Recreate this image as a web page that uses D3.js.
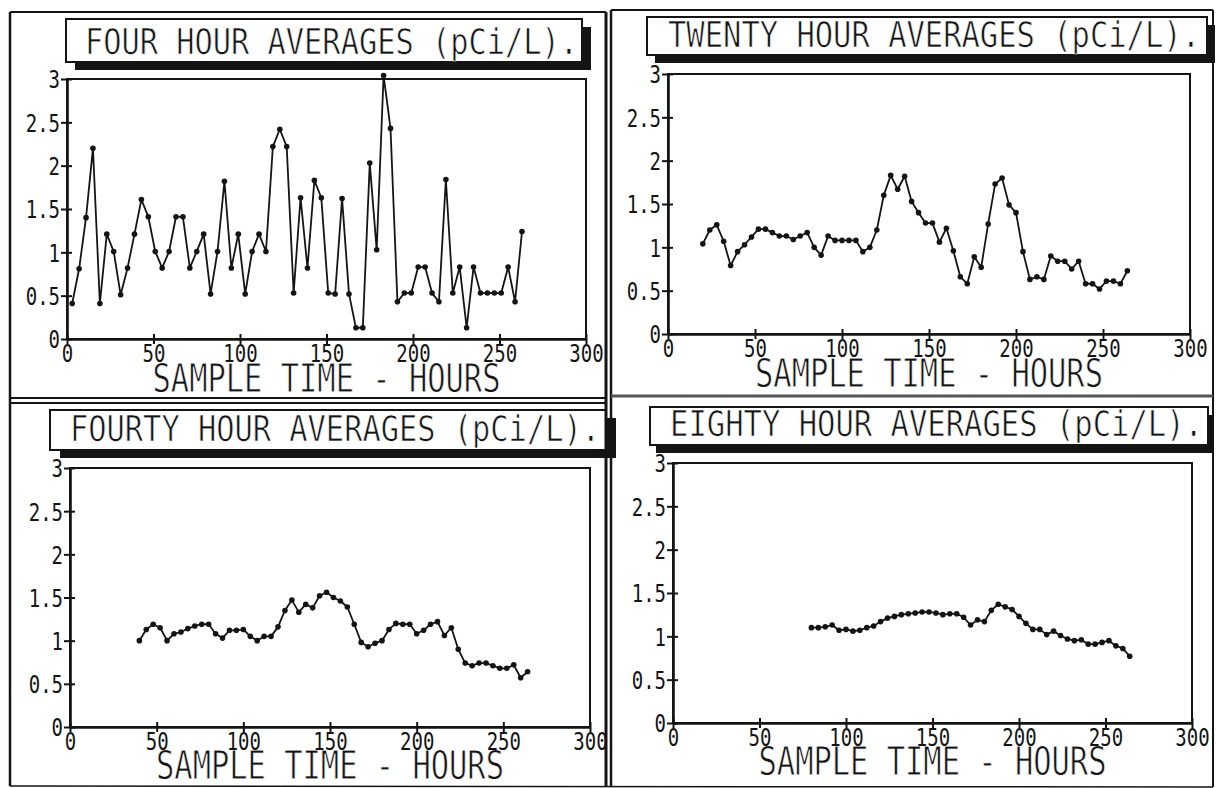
<!DOCTYPE html>
<html>
<head>
<meta charset="utf-8">
<script src="https://cdn.jsdelivr.net/npm/d3@7"></script>
<style>
  html, body { margin: 0; padding: 0; background: #fff; }
  svg { display: block; }
</style>
</head>
<body>
<svg id="chart" width="1217" height="788"></svg>
<script>
// Radon concentration running averages (pCi/L) against sample time in hours.
const fourHourTimes = [3,7,11,15,19,23,27,31,35,39,43,47,51,55,59,63,67,71,75,79,83,87,91,95,99,103,107,111,115,119,123,127,131,135,139,143,147,151,155,159,163,167,171,175,179,183,187,191,195,199,203,207,211,215,219,223,227,231,235,239,243,247,251,255,259,263];
const fourHourValues = [0.41,0.81,1.40,2.20,0.41,1.21,1.01,0.51,0.82,1.21,1.61,1.41,1.01,0.82,1.01,1.41,1.41,0.82,1.01,1.21,0.52,1.01,1.82,0.82,1.21,0.52,1.01,1.21,1.01,2.22,2.42,2.22,0.53,1.63,0.82,1.83,1.63,0.53,0.52,1.62,0.52,0.13,0.13,2.03,1.03,3.04,2.43,0.43,0.53,0.53,0.83,0.83,0.53,0.43,1.84,0.53,0.83,0.13,0.83,0.53,0.53,0.53,0.53,0.83,0.43,1.24];

const twentyHourTimes = [20,24,28,32,36,40,44,48,52,56,60,64,68,72,76,80,84,88,92,96,100,104,108,112,116,120,124,128,132,136,140,144,148,152,156,160,164,168,172,176,180,184,188,192,196,200,204,208,212,216,220,224,228,232,236,240,244,248,252,256,260,264];
const twentyHourValues = [1.04,1.20,1.26,1.07,0.79,0.95,1.03,1.12,1.21,1.21,1.17,1.13,1.13,1.09,1.13,1.17,1.00,0.91,1.13,1.08,1.08,1.08,1.08,0.95,1.00,1.20,1.60,1.83,1.67,1.82,1.53,1.40,1.28,1.28,1.06,1.22,0.96,0.66,0.58,0.89,0.77,1.27,1.73,1.80,1.49,1.40,0.95,0.63,0.66,0.63,0.90,0.84,0.84,0.75,0.84,0.58,0.58,0.52,0.61,0.61,0.58,0.73];

const fourtyHourTimes = [40,44,48,52,56,60,64,68,72,76,80,84,88,92,96,100,104,108,112,116,120,124,128,132,136,140,144,148,152,156,160,164,168,172,176,180,184,188,192,196,200,204,208,212,216,220,224,228,232,236,240,244,248,252,256,260,264];
const fourtyHourValues = [1.00,1.13,1.19,1.15,1.00,1.08,1.10,1.14,1.17,1.19,1.19,1.08,1.03,1.12,1.12,1.13,1.05,1.00,1.05,1.05,1.16,1.35,1.47,1.33,1.42,1.38,1.52,1.56,1.50,1.46,1.39,1.19,0.98,0.93,0.97,1.00,1.13,1.20,1.19,1.19,1.08,1.12,1.19,1.22,1.06,1.15,0.90,0.74,0.71,0.74,0.74,0.71,0.68,0.68,0.72,0.57,0.64];

const eightyHourTimes = [80,84,88,92,96,100,104,108,112,116,120,124,128,132,136,140,144,148,152,156,160,164,168,172,176,180,184,188,192,196,200,204,208,212,216,220,224,228,232,236,240,244,248,252,256,260,264];
const eightyHourValues = [1.10,1.10,1.11,1.13,1.07,1.08,1.06,1.07,1.10,1.12,1.17,1.21,1.23,1.25,1.26,1.27,1.28,1.28,1.27,1.25,1.26,1.26,1.22,1.13,1.19,1.17,1.30,1.37,1.34,1.31,1.23,1.15,1.08,1.08,1.02,1.06,1.01,0.97,0.95,0.96,0.91,0.91,0.93,0.95,0.89,0.86,0.77];

const yTickValues = [0, 0.5, 1, 1.5, 2, 2.5, 3];
const yTickLabels = ["0", "0.5", "1", "1.5", "2", "2.5", "3"];
const xTickValues = [0, 50, 100, 150, 200, 250, 300];
const xTickLabels = ["0", "50", "100", "150", "200", "250", "300"];

const panelTitles = [
  "FOUR HOUR AVERAGES (pCi/L).",
  "TWENTY HOUR AVERAGES (pCi/L).",
  "FOURTY HOUR AVERAGES (pCi/L).",
  "EIGHTY HOUR AVERAGES (pCi/L)."
];
const xAxisTitle = "SAMPLE TIME - HOURS";

const series = [
  { times: fourHourTimes, values: fourHourValues },
  { times: twentyHourTimes, values: twentyHourValues },
  { times: fourtyHourTimes, values: fourtyHourValues },
  { times: eightyHourTimes, values: eightyHourValues }
];

// Page geometry for the four framed panels.
const layouts = [
  { plot: { left: 67, right: 586, top: 79, bottom: 339 },
    box: { x: 66, y: 19, w: 516, h: 43, dx: 9, dy: 8 },
    titleX: [85, 578], titleBase: 54, axisTitleBase: 392 },
  { plot: { left: 668, right: 1190, top: 74, bottom: 334 },
    box: { x: 647, y: 17, w: 560, h: 38, dx: 8, dy: 8 },
    titleX: [668, 1200], titleBase: 47, axisTitleBase: 387 },
  { plot: { left: 70, right: 590, top: 468, bottom: 727 },
    box: { x: 50, y: 410, w: 556, h: 40, dx: 10, dy: 8 },
    titleX: [70, 600], titleBase: 441, axisTitleBase: 779 },
  { plot: { left: 673, right: 1192, top: 463, bottom: 723 },
    box: { x: 650, y: 407, w: 558, h: 38, dx: 6, dy: 8 },
    titleX: [670, 1203], titleBase: 436, axisTitleBase: 775 }
];

const ink = "#141414";
const FONT = "'DejaVu Sans Mono', 'Liberation Mono', monospace";

const svg = d3.select("#chart");
svg.append("rect").attr("width", 1217).attr("height", 788).attr("fill", "#fff");

// Tall, narrow plotter-style lettering: monospace text stretched vertically,
// with a thin white edge so the strokes read like pen lines.
function plotterText(parent, str, x, y, size, sy, anchor, length) {
  const t = parent.append("text")
    .attr("transform", `translate(${x},${y}) scale(1,${sy})`)
    .attr("x", 0).attr("y", 0)
    .attr("font-family", FONT)
    .attr("font-size", size)
    .attr("fill", ink)
    .attr("stroke", "#fff").attr("stroke-width", 0.6)
    .attr("text-anchor", anchor)
    .text(str);
  if (length) t.attr("textLength", length).attr("lengthAdjust", "spacingAndGlyphs");
  return t;
}

series.forEach((s, i) => {
  const L = layouts[i];
  const g = svg.append("g");

  // Title box with its drop shadow
  g.append("rect")
    .attr("x", L.box.x + L.box.dx).attr("y", L.box.y + L.box.dy)
    .attr("width", L.box.w).attr("height", L.box.h)
    .attr("fill", ink);
  g.append("rect")
    .attr("x", L.box.x).attr("y", L.box.y)
    .attr("width", L.box.w).attr("height", L.box.h)
    .attr("fill", "#fff").attr("stroke", ink).attr("stroke-width", 2);
  plotterText(g, panelTitles[i], L.titleX[0], L.titleBase, 30, 1.2, "start", L.titleX[1] - L.titleX[0]);

  const x = d3.scaleLinear().domain([0, 300]).range([L.plot.left, L.plot.right]);
  const y = d3.scaleLinear().domain([0, 3]).range([L.plot.bottom, L.plot.top]);

  // Plot frame
  g.append("rect")
    .attr("x", L.plot.left).attr("y", L.plot.top)
    .attr("width", L.plot.right - L.plot.left).attr("height", L.plot.bottom - L.plot.top)
    .attr("fill", "none").attr("stroke", ink).attr("stroke-width", 2);

  // Axis title, centred under the axis (drawn first so tick numbers sit on top)
  plotterText(g, xAxisTitle, (L.plot.left + L.plot.right) / 2, L.axisTitleBase, 30, 1.32, "middle", 348);

  // Y axis: ticks cross the axis line
  const yAxis = g.append("g")
    .attr("transform", `translate(${L.plot.left},0)`)
    .call(d3.axisLeft(y).tickValues(yTickValues)
      .tickFormat((d, k) => yTickLabels[k]).tickSizeInner(6).tickSizeOuter(0));
  yAxis.select(".domain").attr("stroke", ink).attr("stroke-width", 2.6);
  yAxis.selectAll(".tick line").attr("x1", 5).attr("stroke", ink).attr("stroke-width", 2);
  yAxis.selectAll(".tick text")
    .attr("x", null).attr("dy", null)
    .attr("transform", "translate(-7,0) scale(1,1.3)")
    .attr("y", 6.9)
    .attr("font-family", FONT).attr("font-size", 19)
    .attr("fill", ink).attr("text-anchor", "end");

  // X axis
  const xAxis = g.append("g")
    .attr("transform", `translate(0,${L.plot.bottom})`)
    .call(d3.axisBottom(x).tickValues(xTickValues)
      .tickFormat((d, k) => xTickLabels[k]).tickSizeInner(5).tickSizeOuter(0));
  xAxis.select(".domain").attr("stroke", ink).attr("stroke-width", 2.6);
  xAxis.selectAll(".tick line").attr("y1", -5).attr("stroke", ink).attr("stroke-width", 2);
  xAxis.selectAll(".tick text")
    .attr("y", 17.7).attr("dy", null)
    .attr("transform", "translate(0,0) scale(1,1.3)")
    .attr("font-family", FONT).attr("font-size", 19)
    .attr("fill", ink).attr("text-anchor", "middle");

  // Data line with point markers
  const pts = s.times.map((t, k) => [t, s.values[k]]);
  g.append("path")
    .datum(pts)
    .attr("fill", "none").attr("stroke", ink).attr("stroke-width", 1.8)
    .attr("stroke-linejoin", "round")
    .attr("d", d3.line().x(d => x(d[0])).y(d => y(d[1])));
  g.selectAll("circle.pt")
    .data(pts).enter().append("circle")
    .attr("class", "pt")
    .attr("cx", d => x(d[0])).attr("cy", d => y(d[1]))
    .attr("r", 2.8).attr("fill", ink);
});

// Page frame and panel dividers
const frame = svg.append("g").attr("stroke", ink).attr("fill", "none");
const seg = (x1, y1, x2, y2, w, c) =>
  frame.append("line").attr("x1", x1).attr("y1", y1).attr("x2", x2).attr("y2", y2)
    .attr("stroke-width", w).attr("stroke", c || ink);
seg(10, 12, 606, 12, 2);
seg(611, 10, 1213, 10, 2);
seg(10, 12, 10, 786, 2.5);
seg(606, 12, 606, 786, 3);
seg(611, 10, 611, 787, 2.5);
seg(1213, 10, 1213, 787, 2);
seg(10, 398, 606, 398, 2);
seg(10, 403, 606, 403, 2);
seg(611, 396, 1213, 396, 3, "#555");
seg(10, 786, 1213, 787, 1.5);
</script>
</body>
</html>
